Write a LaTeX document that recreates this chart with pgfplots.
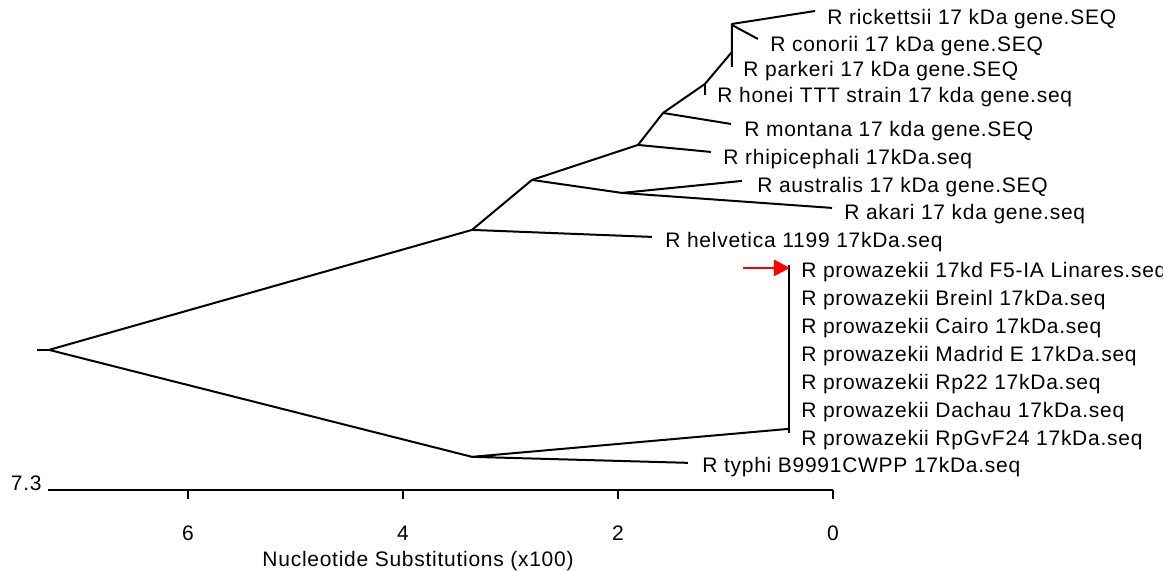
\documentclass[border=0pt]{standalone}
\usepackage{fontspec}
\setmainfont{Liberation Sans}[LetterSpace=3.5]
\usepackage{pgfplots}
\pgfplotsset{compat=1.18}
\usetikzlibrary{arrows.meta}
\begin{document}
\begin{tikzpicture}
\begin{axis}[
  scale only axis, width=392.5pt, height=245pt,
  xmin=0, xmax=7.3, ymin=0, ymax=490, x dir=reverse,
  clip=false,
  axis x line*=bottom, axis y line=none,
  axis line style={line width=1pt},
  xtick={0,2,4,6}, tick align=outside, major tick length=4.5pt,
  tick style={line width=1pt, black},
  /pgf/number format/assume math mode=true,
  xticklabel style={font=\fontsize{10.5}{12}\selectfont, anchor=base, yshift=-21pt},
  br/.style={black, solid, no markers, line width=1pt, line join=round},
]
% tree edges
\addplot[br] coordinates {(7.405,140) (7.293,140)};
\addplot[br] coordinates {(3.358,260) (7.293,140) (3.358,33)};
\addplot[br] coordinates {(1.684,253) (3.358,260) (2.800,310) (1.814,345) (1.581,377) (1.191,406) (0.940,438)};
\addplot[br] coordinates {(2.800,310) (1.963,297) (0.847,309)};
\addplot[br] coordinates {(1.963,297) (0.009,282)};
\addplot[br] coordinates {(1.814,345) (1.135,338)};
\addplot[br] coordinates {(1.581,377) (0.949,366)};
\addplot[br] coordinates {(1.191,406) (1.191,395)};
\addplot[br] coordinates {(0.940,423) (0.940,466) (0.167,479)};
\addplot[br] coordinates {(0.940,465) (0.698,451)};
\addplot[br] coordinates {(1.349,27) (3.358,33) (0.409,61)};
\addplot[br] coordinates {(0.409,225) (0.409,57)};
\addplot[red, solid, no markers, line width=1.3pt, -{Triangle[length=8pt,width=8pt]}] coordinates {(0.837,222) (0.400,222)};
% labels
\begin{scope}[every node/.style={anchor=base west, inner sep=0pt, font=\fontsize{10.5}{12}\selectfont}]
\node at (axis cs:0.056,465) {R rickettsii 17 kDa gene.SEQ};
\node at (axis cs:0.586,438) {R conorii 17 kDa gene.SEQ};
\node at (axis cs:0.837,413) {R parkeri 17 kDa gene.SEQ};
\node at (axis cs:1.079,387) {R honei TTT strain 17 kda gene.seq};
\node at (axis cs:0.828,353) {R montana 17 kda gene.SEQ};
\node at (axis cs:1.023,325) {R rhipicephali 17kDa.seq};
\node at (axis cs:0.707,297) {R australis 17 kDa gene.SEQ};
\node at (axis cs:-0.102,270) {R akari 17 kda gene.seq};
\node at (axis cs:1.563,242) {R helvetica 1199 17kDa.seq};
\node at (axis cs:0.298,212) {R prowazekii 17kd F5-IA Linares.seq};
\node at (axis cs:0.298,184) {R prowazekii Breinl 17kDa.seq};
\node at (axis cs:0.298,156) {R prowazekii Cairo 17kDa.seq};
\node at (axis cs:0.298,128) {R prowazekii Madrid E 17kDa.seq};
\node at (axis cs:0.298,100) {R prowazekii Rp22 17kDa.seq};
\node at (axis cs:0.298,72) {R prowazekii Dachau 17kDa.seq};
\node at (axis cs:0.298,44) {R prowazekii RpGvF24 17kDa.seq};
\node at (axis cs:1.219,17) {R typhi B9991CWPP 17kDa.seq};
\node[anchor=base east] at (axis cs:7.358,-1) {7.3};
\node[anchor=base] at (axis cs:3.86,-77) {Nucleotide Substitutions (x100)};
\end{scope}
\coordinate (bl) at (axis cs:7.749,-81);
\coordinate (tr) at (axis cs:-3.070,490);
\end{axis}
\pgfresetboundingbox
\path[use as bounding box] (bl) rectangle (tr);
\end{tikzpicture}
\end{document}
